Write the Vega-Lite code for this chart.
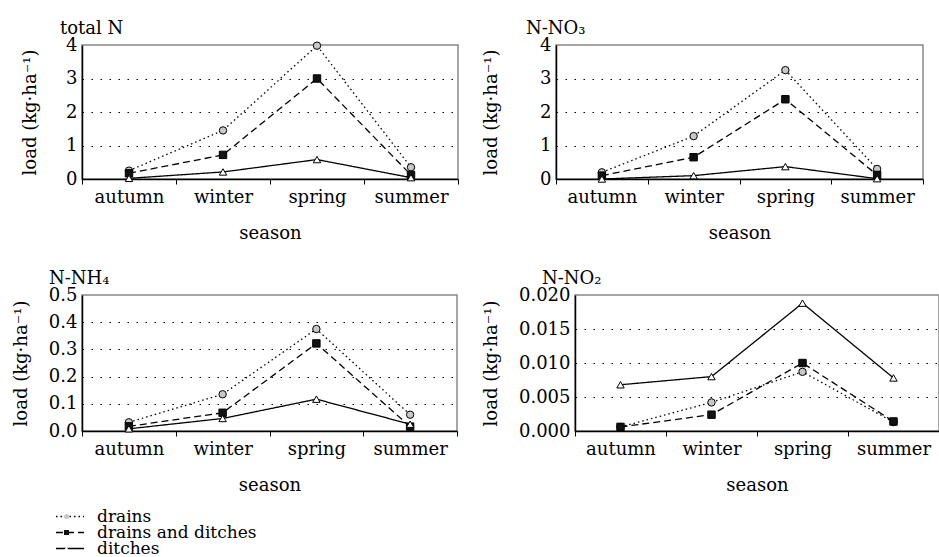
{
  "$schema": "https://vega.github.io/schema/vega-lite/v6.json",
  "background": "white",
  "padding": {"left": 11, "top": 18, "right": 0, "bottom": 0},
  "data": {"values": [
    {"panel": "totalN", "series": "drains", "season": "autumn", "value": 0.25},
    {"panel": "totalN", "series": "drains", "season": "winter", "value": 1.45},
    {"panel": "totalN", "series": "drains", "season": "spring", "value": 3.98},
    {"panel": "totalN", "series": "drains", "season": "summer", "value": 0.35},
    {"panel": "totalN", "series": "drains and ditches", "season": "autumn", "value": 0.17},
    {"panel": "totalN", "series": "drains and ditches", "season": "winter", "value": 0.72},
    {"panel": "totalN", "series": "drains and ditches", "season": "spring", "value": 3.0},
    {"panel": "totalN", "series": "drains and ditches", "season": "summer", "value": 0.12},
    {"panel": "totalN", "series": "ditches", "season": "autumn", "value": 0.02},
    {"panel": "totalN", "series": "ditches", "season": "winter", "value": 0.21},
    {"panel": "totalN", "series": "ditches", "season": "spring", "value": 0.58},
    {"panel": "totalN", "series": "ditches", "season": "summer", "value": 0.04},
    {"panel": "NO3", "series": "drains", "season": "autumn", "value": 0.2},
    {"panel": "NO3", "series": "drains", "season": "winter", "value": 1.28},
    {"panel": "NO3", "series": "drains", "season": "spring", "value": 3.25},
    {"panel": "NO3", "series": "drains", "season": "summer", "value": 0.3},
    {"panel": "NO3", "series": "drains and ditches", "season": "autumn", "value": 0.1},
    {"panel": "NO3", "series": "drains and ditches", "season": "winter", "value": 0.65},
    {"panel": "NO3", "series": "drains and ditches", "season": "spring", "value": 2.38},
    {"panel": "NO3", "series": "drains and ditches", "season": "summer", "value": 0.12},
    {"panel": "NO3", "series": "ditches", "season": "autumn", "value": 0.0},
    {"panel": "NO3", "series": "ditches", "season": "winter", "value": 0.1},
    {"panel": "NO3", "series": "ditches", "season": "spring", "value": 0.37},
    {"panel": "NO3", "series": "ditches", "season": "summer", "value": 0.01},
    {"panel": "NH4", "series": "drains", "season": "autumn", "value": 0.032},
    {"panel": "NH4", "series": "drains", "season": "winter", "value": 0.135},
    {"panel": "NH4", "series": "drains", "season": "spring", "value": 0.375},
    {"panel": "NH4", "series": "drains", "season": "summer", "value": 0.06},
    {"panel": "NH4", "series": "drains and ditches", "season": "autumn", "value": 0.017},
    {"panel": "NH4", "series": "drains and ditches", "season": "winter", "value": 0.067},
    {"panel": "NH4", "series": "drains and ditches", "season": "spring", "value": 0.322},
    {"panel": "NH4", "series": "drains and ditches", "season": "summer", "value": 0.016},
    {"panel": "NH4", "series": "ditches", "season": "autumn", "value": 0.008},
    {"panel": "NH4", "series": "ditches", "season": "winter", "value": 0.046},
    {"panel": "NH4", "series": "ditches", "season": "spring", "value": 0.117},
    {"panel": "NH4", "series": "ditches", "season": "summer", "value": 0.025},
    {"panel": "NO2", "series": "drains", "season": "autumn", "value": 0.0006},
    {"panel": "NO2", "series": "drains", "season": "winter", "value": 0.0042},
    {"panel": "NO2", "series": "drains", "season": "spring", "value": 0.0087},
    {"panel": "NO2", "series": "drains", "season": "summer", "value": 0.0013},
    {"panel": "NO2", "series": "drains and ditches", "season": "autumn", "value": 0.0006},
    {"panel": "NO2", "series": "drains and ditches", "season": "winter", "value": 0.0024},
    {"panel": "NO2", "series": "drains and ditches", "season": "spring", "value": 0.0100},
    {"panel": "NO2", "series": "drains and ditches", "season": "summer", "value": 0.0014},
    {"panel": "NO2", "series": "ditches", "season": "autumn", "value": 0.0068},
    {"panel": "NO2", "series": "ditches", "season": "winter", "value": 0.0080},
    {"panel": "NO2", "series": "ditches", "season": "spring", "value": 0.0188},
    {"panel": "NO2", "series": "ditches", "season": "summer", "value": 0.0078}
  ]},
  "bounds": "flush",
  "spacing": 250,
  "vconcat": [
    {
      "bounds": "flush",
      "spacing": 98,
      "hconcat": [
        {
          "width": 376, "height": 134,
          "title": {"text": "total N", "dx": -22},
          "transform": [{"filter": "datum.panel === 'totalN'"}],
          "encoding": {
            "x": {"field": "season", "type": "nominal", "sort": null, "scale": {"type": "band", "paddingInner": 0, "paddingOuter": 0, "domain": ["autumn", "winter", "spring", "summer"]}, "axis": {"title": "season"}},
            "y": {"field": "value", "type": "quantitative", "scale": {"domain": [0, 4], "nice": false}, "axis": {"title": "load (kg·ha⁻¹)", "values": [0, 1, 2, 3, 4], "format": "d", "titlePadding": 26, "gridOpacity": {"condition": {"test": "datum.value >= 4", "value": 0}, "value": 1}}}
          },
          "layer": [
            {"mark": {"type": "line", "color": "black", "strokeWidth": 1.3},
             "encoding": {"order": {"value": null},
               "strokeDash": {"field": "series", "type": "nominal", "sort": ["drains", "drains and ditches", "ditches"], "scale": {"range": [[1.5, 3], [7, 4], [1, 0]]}, "legend": {"title": null, "orient": "none", "legendX": -27, "legendY": 464, "symbolType": "stroke", "symbolSize": 784, "symbolStrokeWidth": 1.3, "symbolStrokeColor": "black", "labelFont": "DejaVu Serif", "labelFontSize": 17, "labelColor": "black", "labelOffset": 12, "rowPadding": -6, "clipHeight": 15, "padding": 0, "labelLimit": 400}}}},
            {"mark": {"type": "point", "filled": true, "stroke": "black", "strokeWidth": 1, "size": 55, "opacity": 1},
             "encoding": {
               "shape": {"field": "series", "type": "nominal", "scale": {"domain": ["drains", "drains and ditches", "ditches"], "range": ["circle", "square", "triangle-up"]}, "legend": {"title": null, "orient": "none", "legendX": -24, "legendY": 464, "symbolSize": 25, "symbolStrokeColor": "black", "symbolStrokeWidth": 0.8, "labelFont": "DejaVu Serif", "labelFontSize": 17, "labelColor": "transparent", "labelOffset": 12, "rowPadding": -6, "clipHeight": 15, "padding": 0, "labelLimit": 400}},
               "fill": {"field": "series", "type": "nominal", "scale": {"domain": ["drains", "drains and ditches", "ditches"], "range": ["#c8c8c8", "#111111", "#ffffff"]}, "legend": {"title": null, "orient": "none", "legendX": -24, "legendY": 464, "symbolSize": 25, "symbolStrokeColor": "black", "symbolStrokeWidth": 0.8, "labelFont": "DejaVu Serif", "labelFontSize": 17, "labelColor": "transparent", "labelOffset": 12, "rowPadding": -6, "clipHeight": 15, "padding": 0, "labelLimit": 400}}
             }}
          ]
        },
        {
          "width": 367, "height": 134,
          "title": {"text": "N-NO₃", "dx": -30},
          "transform": [{"filter": "datum.panel === 'NO3'"}],
          "encoding": {
            "x": {"field": "season", "type": "nominal", "sort": null, "scale": {"type": "band", "paddingInner": 0, "paddingOuter": 0, "domain": ["autumn", "winter", "spring", "summer"]}, "axis": {"title": "season"}},
            "y": {"field": "value", "type": "quantitative", "scale": {"domain": [0, 4], "nice": false}, "axis": {"title": "load (kg·ha⁻¹)", "values": [0, 1, 2, 3, 4], "format": "d", "titlePadding": 39, "gridOpacity": {"condition": {"test": "datum.value >= 4", "value": 0}, "value": 1}}}
          },
          "layer": [
            {"mark": {"type": "line", "color": "black", "strokeWidth": 1.3},
             "encoding": {"order": {"value": null},
               "strokeDash": {"field": "series", "type": "nominal", "sort": ["drains", "drains and ditches", "ditches"], "scale": {"range": [[1.5, 3], [7, 4], [1, 0]]}, "legend": {"title": null, "orient": "none", "legendX": -27, "legendY": 464, "symbolType": "stroke", "symbolSize": 784, "symbolStrokeWidth": 1.3, "symbolStrokeColor": "black", "labelFont": "DejaVu Serif", "labelFontSize": 17, "labelColor": "black", "labelOffset": 12, "rowPadding": -6, "clipHeight": 15, "padding": 0, "labelLimit": 400}}}},
            {"mark": {"type": "point", "filled": true, "stroke": "black", "strokeWidth": 1, "size": 55, "opacity": 1},
             "encoding": {
               "shape": {"field": "series", "type": "nominal", "scale": {"domain": ["drains", "drains and ditches", "ditches"], "range": ["circle", "square", "triangle-up"]}, "legend": {"title": null, "orient": "none", "legendX": -24, "legendY": 464, "symbolSize": 25, "symbolStrokeColor": "black", "symbolStrokeWidth": 0.8, "labelFont": "DejaVu Serif", "labelFontSize": 17, "labelColor": "transparent", "labelOffset": 12, "rowPadding": -6, "clipHeight": 15, "padding": 0, "labelLimit": 400}},
               "fill": {"field": "series", "type": "nominal", "scale": {"domain": ["drains", "drains and ditches", "ditches"], "range": ["#c8c8c8", "#111111", "#ffffff"]}, "legend": {"title": null, "orient": "none", "legendX": -24, "legendY": 464, "symbolSize": 25, "symbolStrokeColor": "black", "symbolStrokeWidth": 0.8, "labelFont": "DejaVu Serif", "labelFontSize": 17, "labelColor": "transparent", "labelOffset": 12, "rowPadding": -6, "clipHeight": 15, "padding": 0, "labelLimit": 400}}
             }}
          ]
        }
      ]
    },
    {
      "bounds": "flush",
      "spacing": 118,
      "hconcat": [
        {
          "width": 375, "height": 136,
          "title": {"text": "N-NH₄", "dx": -33},
          "transform": [{"filter": "datum.panel === 'NH4'"}],
          "encoding": {
            "x": {"field": "season", "type": "nominal", "sort": null, "scale": {"type": "band", "paddingInner": 0, "paddingOuter": 0, "domain": ["autumn", "winter", "spring", "summer"]}, "axis": {"title": "season"}},
            "y": {"field": "value", "type": "quantitative", "scale": {"domain": [0, 0.5], "nice": false}, "axis": {"title": "load (kg·ha⁻¹)", "values": [0, 0.1, 0.2, 0.3, 0.4, 0.5], "format": ".1f", "titlePadding": 18, "gridOpacity": {"condition": {"test": "datum.value >= 0.5", "value": 0}, "value": 1}}}
          },
          "layer": [
            {"mark": {"type": "line", "color": "black", "strokeWidth": 1.3},
             "encoding": {"order": {"value": null},
               "strokeDash": {"field": "series", "type": "nominal", "sort": ["drains", "drains and ditches", "ditches"], "scale": {"range": [[1.5, 3], [7, 4], [1, 0]]}, "legend": {"title": null, "orient": "none", "legendX": -27, "legendY": 464, "symbolType": "stroke", "symbolSize": 784, "symbolStrokeWidth": 1.3, "symbolStrokeColor": "black", "labelFont": "DejaVu Serif", "labelFontSize": 17, "labelColor": "black", "labelOffset": 12, "rowPadding": -6, "clipHeight": 15, "padding": 0, "labelLimit": 400}}}},
            {"mark": {"type": "point", "filled": true, "stroke": "black", "strokeWidth": 1, "size": 55, "opacity": 1},
             "encoding": {
               "shape": {"field": "series", "type": "nominal", "scale": {"domain": ["drains", "drains and ditches", "ditches"], "range": ["circle", "square", "triangle-up"]}, "legend": {"title": null, "orient": "none", "legendX": -24, "legendY": 464, "symbolSize": 25, "symbolStrokeColor": "black", "symbolStrokeWidth": 0.8, "labelFont": "DejaVu Serif", "labelFontSize": 17, "labelColor": "transparent", "labelOffset": 12, "rowPadding": -6, "clipHeight": 15, "padding": 0, "labelLimit": 400}},
               "fill": {"field": "series", "type": "nominal", "scale": {"domain": ["drains", "drains and ditches", "ditches"], "range": ["#c8c8c8", "#111111", "#ffffff"]}, "legend": {"title": null, "orient": "none", "legendX": -24, "legendY": 464, "symbolSize": 25, "symbolStrokeColor": "black", "symbolStrokeWidth": 0.8, "labelFont": "DejaVu Serif", "labelFontSize": 17, "labelColor": "transparent", "labelOffset": 12, "rowPadding": -6, "clipHeight": 15, "padding": 0, "labelLimit": 400}}
             }}
          ]
        },
        {
          "width": 364, "height": 136,
          "title": {"text": "N-NO₂", "dx": -33},
          "transform": [{"filter": "datum.panel === 'NO2'"}],
          "encoding": {
            "x": {"field": "season", "type": "nominal", "sort": null, "scale": {"type": "band", "paddingInner": 0, "paddingOuter": 0, "domain": ["autumn", "winter", "spring", "summer"]}, "axis": {"title": "season"}},
            "y": {"field": "value", "type": "quantitative", "scale": {"domain": [0, 0.02], "nice": false}, "axis": {"title": "load (kg·ha⁻¹)", "values": [0, 0.005, 0.01, 0.015, 0.02], "format": ".3f", "titlePadding": 18, "gridOpacity": {"condition": {"test": "datum.value >= 0.02", "value": 0}, "value": 1}}}
          },
          "layer": [
            {"mark": {"type": "line", "color": "black", "strokeWidth": 1.3},
             "encoding": {"order": {"value": null},
               "strokeDash": {"field": "series", "type": "nominal", "sort": ["drains", "drains and ditches", "ditches"], "scale": {"range": [[1.5, 3], [7, 4], [1, 0]]}, "legend": {"title": null, "orient": "none", "legendX": -27, "legendY": 464, "symbolType": "stroke", "symbolSize": 784, "symbolStrokeWidth": 1.3, "symbolStrokeColor": "black", "labelFont": "DejaVu Serif", "labelFontSize": 17, "labelColor": "black", "labelOffset": 12, "rowPadding": -6, "clipHeight": 15, "padding": 0, "labelLimit": 400}}}},
            {"mark": {"type": "point", "filled": true, "stroke": "black", "strokeWidth": 1, "size": 55, "opacity": 1},
             "encoding": {
               "shape": {"field": "series", "type": "nominal", "scale": {"domain": ["drains", "drains and ditches", "ditches"], "range": ["circle", "square", "triangle-up"]}, "legend": {"title": null, "orient": "none", "legendX": -24, "legendY": 464, "symbolSize": 25, "symbolStrokeColor": "black", "symbolStrokeWidth": 0.8, "labelFont": "DejaVu Serif", "labelFontSize": 17, "labelColor": "transparent", "labelOffset": 12, "rowPadding": -6, "clipHeight": 15, "padding": 0, "labelLimit": 400}},
               "fill": {"field": "series", "type": "nominal", "scale": {"domain": ["drains", "drains and ditches", "ditches"], "range": ["#c8c8c8", "#111111", "#ffffff"]}, "legend": {"title": null, "orient": "none", "legendX": -24, "legendY": 464, "symbolSize": 25, "symbolStrokeColor": "black", "symbolStrokeWidth": 0.8, "labelFont": "DejaVu Serif", "labelFontSize": 17, "labelColor": "transparent", "labelOffset": 12, "rowPadding": -6, "clipHeight": 15, "padding": 0, "labelLimit": 400}}
             }}
          ]
        }
      ]
    }
  ],
  "config": {
    "font": "DejaVu Serif",
    "view": {"stroke": "#888888", "strokeWidth": 1.5},
    "axis": {"labelFont": "DejaVu Serif", "labelFontSize": 18, "labelColor": "black", "titleFont": "DejaVu Serif", "titleFontSize": 18, "titleFontWeight": "normal", "titleColor": "black", "domainColor": "black", "domainWidth": 1.5, "tickColor": "black", "tickWidth": 1},
    "axisX": {"labelAngle": 0, "tickBand": "extent", "tickSize": 5, "labelPadding": 4, "titlePadding": 18, "grid": false},
    "axisY": {"ticks": false, "labelPadding": 5, "grid": true, "gridColor": "black", "gridDash": [1.5, 7.5], "gridWidth": 1.2},
    "title": {"font": "DejaVu Serif", "fontSize": 18, "fontWeight": "normal", "anchor": "start", "frame": "group", "color": "black", "offset": -1.5}
  }
}
